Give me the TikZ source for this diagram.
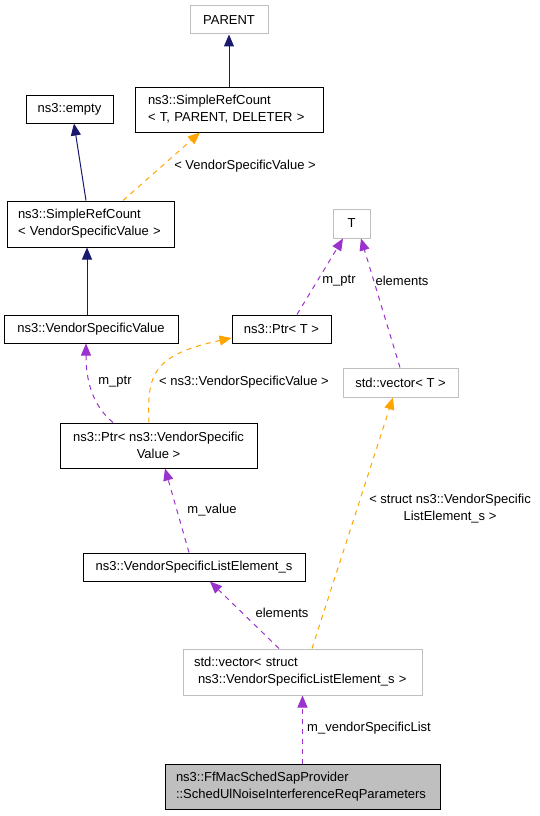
\documentclass[tikz,border=0pt]{standalone}
\usepackage{fontspec}
\setmainfont{Liberation Sans}
\usetikzlibrary{arrows.meta}
\definecolor{navyc}{HTML}{191970}
\definecolor{orngc}{HTML}{FFA500}
\definecolor{purpc}{HTML}{9A32CD}
\definecolor{gbord}{HTML}{BFBFBF}
\definecolor{gfill}{HTML}{BFBFBF}
\tikzset{
  txt/.style={font=\fontsize{13}{17}\selectfont},
  cls/.style={txt, draw=black, line width=1pt, inner sep=0pt},
  gcls/.style={cls, draw=gbord},
  lcls/.style={cls, align=left, inner ysep=0pt},
  tip/.style={-{Triangle[length=12pt,width=10pt]}},
  inh/.style={draw=navyc, line width=1pt, tip},
  tmpl/.style={draw=orngc, line width=1pt, dash pattern=on 5pt off 5pt, tip},
  usage/.style={draw=purpc, line width=1pt, dash pattern=on 5pt off 5pt, tip},
  lbl/.style={txt, inner sep=0pt}
}
\begin{document}
\begin{tikzpicture}[x=1pt,y=-1pt]
\useasboundingbox[fill=white] (0,0) rectangle (540,816);

% nodes
\node[gcls, minimum width=78, minimum height=28] (parent) at (229,20) {PARENT};
\node[lcls, minimum height=45, text width=162, inner xsep=13] (srct) at (229,109.5)
  {\mbox{ns3::SimpleRefCount}\\\mbox{< T, PARENT, DELETER >}};
\node[cls, minimum width=87, minimum height=28] (empty) at (69.5,109) {ns3::empty};
\node[lcls, minimum height=46, text width=145, inner xsep=11] (srcv) at (90.5,224)
  {\mbox{ns3::SimpleRefCount}\\\mbox{< VendorSpecificValue >}};
\node[gcls, minimum width=37, minimum height=29] (tt) at (351.5,223.5) {T};
\node[cls, minimum width=174, minimum height=28] (vsv) at (91,329) {ns3::VendorSpecificValue};
\node[cls, minimum width=99, minimum height=28] (ptrt) at (281.5,329) {ns3::Ptr< T >};
\node[gcls, minimum width=115, minimum height=29] (vect) at (400.5,382.5) {std::vector< T >};
\node[cls, align=center, minimum width=197, minimum height=45] (ptrv) at (158.5,445.5)
  {ns3::Ptr< ns3::VendorSpecific\\Value >};
\node[cls, minimum width=222, minimum height=28] (vsle) at (194,567) {ns3::VendorSpecificListElement\_s};
\node[lcls, draw=gbord, minimum height=46, text width=217, inner xsep=11] (vecs) at (302.5,672)
  {\mbox{std::vector< struct}\\\mbox{\hspace{4pt}ns3::VendorSpecificListElement\_s >}};
\node[lcls, fill=gfill, minimum height=45, text width=253, inner xsep=11] (main) at (302.5,786.5)
  {\mbox{ns3::FfMacSchedSapProvider}\\\mbox{::SchedUlNoiseInterferenceReqParameters}};

% edges
\draw[inh] (srct.north) -- (parent.south);
\draw[inh] ([xshift=-4.5pt]srcv.north) -- ([xshift=4.5pt]empty.south);
\draw[tmpl] ([xshift=32.5pt]srcv.north) -- ([xshift=-29pt]srct.south);
\draw[inh] ([xshift=-4pt]vsv.north) -- ([xshift=-3.5pt]srcv.south);
\draw[usage] ([xshift=15.5pt]ptrt.north) -- ([xshift=-8.5pt]tt.south);
\draw[usage] ([xshift=-0.5pt]vect.north) -- ([xshift=9.5pt]tt.south);
\draw[usage] ([xshift=-45.5pt]ptrv.north) .. controls (92,405) and (86,380) .. ([xshift=-5pt]vsv.south);
\draw[tmpl] ([xshift=-9.5pt]ptrv.north) .. controls (147,375) and (152,355) .. ([yshift=-9pt]ptrt.west);
\draw[usage] ([xshift=-5pt]vsle.north) -- ([xshift=6.5pt]ptrv.south);
\draw[usage] ([xshift=-23.5pt]vecs.north) -- ([xshift=16pt]vsle.south);
\draw[tmpl] ([xshift=9.5pt]vecs.north) -- ([xshift=-7.5pt]vect.south);
\draw[usage] (main.north) -- (vecs.south);

% labels
\node[lbl] (l1) at (245,166) {< VendorSpecificValue >};
\node[lbl] (l2) at (339,281) {m\_ptr};
\node[lbl] (l3) at (402,281) {elements};
\node[lbl] (l4) at (115,382) {m\_ptr};
\node[lbl] (l5) at (244,382) {< ns3::VendorSpecificValue >};
\node[lbl] (l6) at (212,510) {m\_value};
\node[lbl, align=center] (l7) at (450,509) {< struct ns3::VendorSpecific\\ListElement\_s >};
\node[lbl] (l8) at (282,613) {elements};
\node[lbl] (l9) at (369,728) {m\_vendorSpecificList};
\end{tikzpicture}
\end{document}
